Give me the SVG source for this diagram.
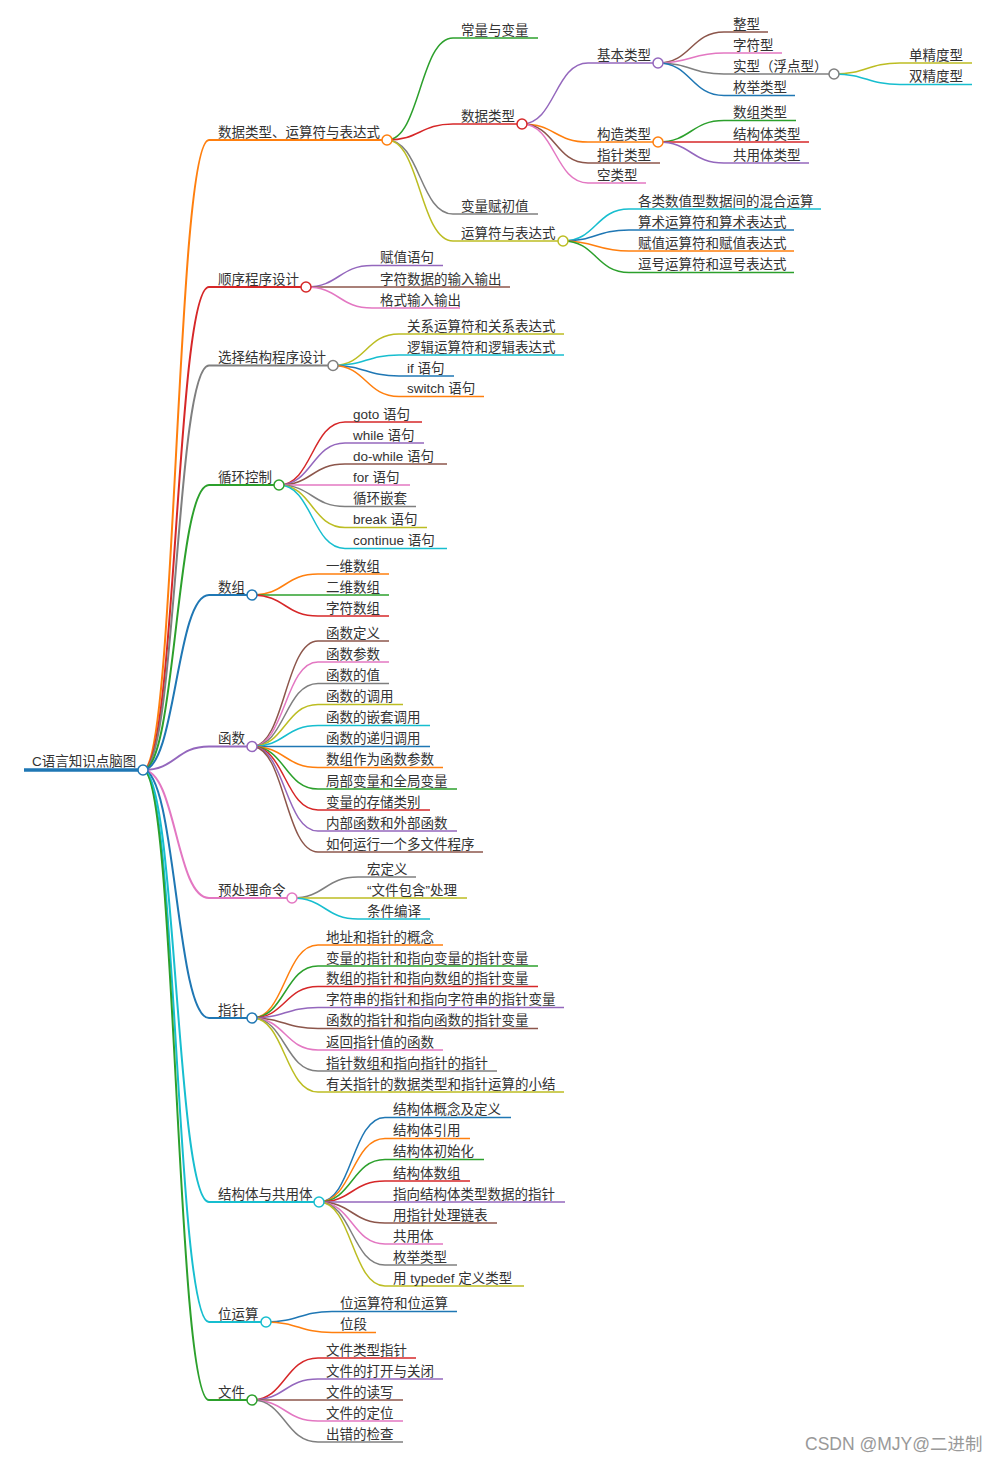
<svg xmlns="http://www.w3.org/2000/svg" width="997" height="1462" viewBox="0 0 997 1462">
<style>
path{fill:none;stroke-width:1.5}
circle{fill:#fff;stroke-width:1.5}
.l1{stroke-width:2}
.root{stroke-width:3.5}
text{font-family:"Liberation Sans","Noto Sans CJK SC",sans-serif;font-size:13.5px;fill:#333}
.wm{font-size:17.5px;fill:#999}
.b{stroke:#1f77b4}.o{stroke:#ff7f0e}.g{stroke:#2ca02c}.r{stroke:#d62728}.p{stroke:#9467bd}
.br{stroke:#8c564b}.pk{stroke:#e377c2}.gy{stroke:#7f7f7f}.ol{stroke:#bcbd22}.cy{stroke:#17becf}
</style>
<rect width="997" height="1462" fill="#fff"/>
<g id="connectors">
<path class="o l1" d="M143 770C176 770 176 140 209 140"/>
<path class="r l1" d="M143 770C176 770 176 287 209 287"/>
<path class="gy l1" d="M143 770C176 770 176 365.5 209 365.5"/>
<path class="g l1" d="M143 770C176 770 176 485 209 485"/>
<path class="b l1" d="M143 770C176 770 176 595 209 595"/>
<path class="p l1" d="M143 770C176 770 176 746.5 209 746.5"/>
<path class="pk l1" d="M143 770C176 770 176 898 209 898"/>
<path class="b l1" d="M143 770C176 770 176 1018 209 1018"/>
<path class="cy l1" d="M143 770C176 770 176 1202 209 1202"/>
<path class="cy l1" d="M143 770C176 770 176 1322 209 1322"/>
<path class="g l1" d="M143 770C176 770 176 1400 209 1400"/>
<path class="g" d="M387 140C420 140 420 38 453 38"/>
<path class="r" d="M387 140C420 140 420 124 453 124"/>
<path class="gy" d="M387 140C420 140 420 214 453 214"/>
<path class="ol" d="M387 140C420 140 420 241 453 241"/>
<path class="p" d="M522 124C555 124 555 63 588 63"/>
<path class="o" d="M522 124C555 124 555 142 588 142"/>
<path class="br" d="M522 124C555 124 555 163 588 163"/>
<path class="pk" d="M522 124C555 124 555 183 588 183"/>
<path class="br" d="M658 63C691 63 691 32 724 32"/>
<path class="pk" d="M658 63C691 63 691 53 724 53"/>
<path class="gy" d="M658 63C691 63 691 74 724 74"/>
<path class="b" d="M658 63C691 63 691 95.5 724 95.5"/>
<path class="ol" d="M834 74C867 74 867 63 900 63"/>
<path class="cy" d="M834 74C867 74 867 84.5 900 84.5"/>
<path class="g" d="M658 142C691 142 691 120.5 724 120.5"/>
<path class="r" d="M658 142C691 142 691 142 724 142"/>
<path class="p" d="M658 142C691 142 691 163 724 163"/>
<path class="cy" d="M563 241C596 241 596 209 629 209"/>
<path class="b" d="M563 241C596 241 596 230 629 230"/>
<path class="o" d="M563 241C596 241 596 251 629 251"/>
<path class="g" d="M563 241C596 241 596 272.5 629 272.5"/>
<path class="p" d="M306 287C339 287 339 265.5 372 265.5"/>
<path class="br" d="M306 287C339 287 339 287 372 287"/>
<path class="pk" d="M306 287C339 287 339 308 372 308"/>
<path class="ol" d="M333 365.5C366 365.5 366 334 399 334"/>
<path class="cy" d="M333 365.5C366 365.5 366 355 399 355"/>
<path class="b" d="M333 365.5C366 365.5 366 376 399 376"/>
<path class="o" d="M333 365.5C366 365.5 366 396.5 399 396.5"/>
<path class="r" d="M279 485C312 485 312 422 345 422"/>
<path class="p" d="M279 485C312 485 312 443 345 443"/>
<path class="br" d="M279 485C312 485 312 464 345 464"/>
<path class="pk" d="M279 485C312 485 312 485 345 485"/>
<path class="gy" d="M279 485C312 485 312 506.5 345 506.5"/>
<path class="ol" d="M279 485C312 485 312 527.5 345 527.5"/>
<path class="cy" d="M279 485C312 485 312 548.5 345 548.5"/>
<path class="o" d="M252 595C285 595 285 574 318 574"/>
<path class="g" d="M252 595C285 595 285 595 318 595"/>
<path class="r" d="M252 595C285 595 285 616 318 616"/>
<path class="br" d="M252 746.5C285 746.5 285 641 318 641"/>
<path class="pk" d="M252 746.5C285 746.5 285 662 318 662"/>
<path class="gy" d="M252 746.5C285 746.5 285 683.5 318 683.5"/>
<path class="ol" d="M252 746.5C285 746.5 285 704.5 318 704.5"/>
<path class="cy" d="M252 746.5C285 746.5 285 725.5 318 725.5"/>
<path class="b" d="M252 746.5C285 746.5 285 746.5 318 746.5"/>
<path class="o" d="M252 746.5C285 746.5 285 767.5 318 767.5"/>
<path class="g" d="M252 746.5C285 746.5 285 789 318 789"/>
<path class="r" d="M252 746.5C285 746.5 285 810 318 810"/>
<path class="p" d="M252 746.5C285 746.5 285 831 318 831"/>
<path class="br" d="M252 746.5C285 746.5 285 852 318 852"/>
<path class="gy" d="M292 898C325 898 325 877 358 877"/>
<path class="ol" d="M292 898C325 898 325 898 358 898"/>
<path class="cy" d="M292 898C325 898 325 919 358 919"/>
<path class="o" d="M252 1018C285 1018 285 945 318 945"/>
<path class="g" d="M252 1018C285 1018 285 966 318 966"/>
<path class="r" d="M252 1018C285 1018 285 986.5 318 986.5"/>
<path class="p" d="M252 1018C285 1018 285 1007.5 318 1007.5"/>
<path class="br" d="M252 1018C285 1018 285 1028.5 318 1028.5"/>
<path class="pk" d="M252 1018C285 1018 285 1050 318 1050"/>
<path class="gy" d="M252 1018C285 1018 285 1071 318 1071"/>
<path class="ol" d="M252 1018C285 1018 285 1092 318 1092"/>
<path class="b" d="M319 1202C352 1202 352 1117.5 385 1117.5"/>
<path class="o" d="M319 1202C352 1202 352 1138.5 385 1138.5"/>
<path class="g" d="M319 1202C352 1202 352 1159.5 385 1159.5"/>
<path class="r" d="M319 1202C352 1202 352 1181 385 1181"/>
<path class="p" d="M319 1202C352 1202 352 1202 385 1202"/>
<path class="br" d="M319 1202C352 1202 352 1223 385 1223"/>
<path class="pk" d="M319 1202C352 1202 352 1244 385 1244"/>
<path class="gy" d="M319 1202C352 1202 352 1265 385 1265"/>
<path class="ol" d="M319 1202C352 1202 352 1286 385 1286"/>
<path class="b" d="M266 1322C299 1322 299 1311.5 332 1311.5"/>
<path class="o" d="M266 1322C299 1322 299 1332.5 332 1332.5"/>
<path class="r" d="M252 1400C285 1400 285 1358 318 1358"/>
<path class="p" d="M252 1400C285 1400 285 1379 318 1379"/>
<path class="br" d="M252 1400C285 1400 285 1400 318 1400"/>
<path class="pk" d="M252 1400C285 1400 285 1421 318 1421"/>
<path class="gy" d="M252 1400C285 1400 285 1442 318 1442"/>
</g>

<g id="root"><path class="b root" d="M24 770H143"/><circle class="b" cx="143" cy="770" r="5"/><text x="32" y="766">C语言知识点脑图</text></g>

<g id="n-types"><path class="o l1" d="M209 140H387"/><circle class="o" cx="387" cy="140" r="5"/><text x="218" y="136.5">数据类型、运算符与表达式</text></g>
<g id="n-const"><path class="g" d="M453 38H538"/><text x="461" y="34.5">常量与变量</text></g>
<g id="n-dtype"><path class="r" d="M453 124H522"/><circle class="r" cx="522" cy="124" r="5"/><text x="461" y="120.5">数据类型</text></g>
<g id="n-basic"><path class="p" d="M588 63H658"/><circle class="p" cx="658" cy="63" r="5"/><text x="597" y="59.5">基本类型</text></g>
<g id="n-int"><path class="br" d="M724 32H768"/><text x="733" y="28.5">整型</text></g>
<g id="n-char"><path class="pk" d="M724 53H782"/><text x="733" y="49.5">字符型</text></g>
<g id="n-real"><path class="gy" d="M724 74H834"/><circle class="gy" cx="834" cy="74" r="5"/><text x="733" y="70.5">实型（浮点型）</text></g>
<g id="n-single"><path class="ol" d="M900 63H972"/><text x="909" y="59.5">单精度型</text></g>
<g id="n-double"><path class="cy" d="M900 84.5H972"/><text x="909" y="81">双精度型</text></g>
<g id="n-enum1"><path class="b" d="M724 95.5H795"/><text x="733" y="92">枚举类型</text></g>
<g id="n-construct"><path class="o" d="M588 142H658"/><circle class="o" cx="658" cy="142" r="5"/><text x="597" y="138.5">构造类型</text></g>
<g id="n-arrt"><path class="g" d="M724 120.5H796"/><text x="733" y="117">数组类型</text></g>
<g id="n-structt"><path class="r" d="M724 142H809"/><text x="733" y="138.5">结构体类型</text></g>
<g id="n-uniont"><path class="p" d="M724 163H809"/><text x="733" y="159.5">共用体类型</text></g>
<g id="n-ptrt"><path class="br" d="M588 163H660"/><text x="597" y="159.5">指针类型</text></g>
<g id="n-void"><path class="pk" d="M588 183H646"/><text x="597" y="179.5">空类型</text></g>
<g id="n-init"><path class="gy" d="M453 214H538"/><text x="461" y="210.5">变量赋初值</text></g>
<g id="n-ops"><path class="ol" d="M453 241H563"/><circle class="ol" cx="563" cy="241" r="5"/><text x="461" y="237.5">运算符与表达式</text></g>
<g id="n-mix"><path class="cy" d="M629 209H821"/><text x="638" y="205.5">各类数值型数据间的混合运算</text></g>
<g id="n-arith"><path class="b" d="M629 230H794"/><text x="638" y="226.5">算术运算符和算术表达式</text></g>
<g id="n-assign"><path class="o" d="M629 251H794"/><text x="638" y="247.5">赋值运算符和赋值表达式</text></g>
<g id="n-comma"><path class="g" d="M629 272.5H794"/><text x="638" y="269">逗号运算符和逗号表达式</text></g>

<g id="n-seq"><path class="r l1" d="M209 287H306"/><circle class="r" cx="306" cy="287" r="5"/><text x="218" y="283.5">顺序程序设计</text></g>
<g id="n-seq1"><path class="p" d="M372 265.5H443"/><text x="380" y="262">赋值语句</text></g>
<g id="n-seq2"><path class="br" d="M372 287H510"/><text x="380" y="283.5">字符数据的输入输出</text></g>
<g id="n-seq3"><path class="pk" d="M372 308H460"/><text x="380" y="304.5">格式输入输出</text></g>

<g id="n-sel"><path class="gy l1" d="M209 365.5H333"/><circle class="gy" cx="333" cy="365.5" r="5"/><text x="218" y="362">选择结构程序设计</text></g>
<g id="n-sel1"><path class="ol" d="M399 334H564"/><text x="407" y="330.5">关系运算符和关系表达式</text></g>
<g id="n-sel2"><path class="cy" d="M399 355H564"/><text x="407" y="351.5">逻辑运算符和逻辑表达式</text></g>
<g id="n-sel3"><path class="b" d="M399 376H454"/><text x="407" y="372.5">if 语句</text></g>
<g id="n-sel4"><path class="o" d="M399 396.5H484"/><text x="407" y="393">switch 语句</text></g>

<g id="n-loop"><path class="g l1" d="M209 485H279"/><circle class="g" cx="279" cy="485" r="5"/><text x="218" y="481.5">循环控制</text></g>
<g id="n-loop1"><path class="r" d="M345 422H422"/><text x="353" y="418.5">goto 语句</text></g>
<g id="n-loop2"><path class="p" d="M345 443H424"/><text x="353" y="439.5">while 语句</text></g>
<g id="n-loop3"><path class="br" d="M345 464H447"/><text x="353" y="460.5">do-while 语句</text></g>
<g id="n-loop4"><path class="pk" d="M345 485H410"/><text x="353" y="481.5">for 语句</text></g>
<g id="n-loop5"><path class="gy" d="M345 506.5H416"/><text x="353" y="503">循环嵌套</text></g>
<g id="n-loop6"><path class="ol" d="M345 527.5H427"/><text x="353" y="524">break 语句</text></g>
<g id="n-loop7"><path class="cy" d="M345 548.5H447"/><text x="353" y="545">continue 语句</text></g>

<g id="n-arr"><path class="b l1" d="M209 595H252"/><circle class="b" cx="252" cy="595" r="5"/><text x="218" y="591.5">数组</text></g>
<g id="n-arr1"><path class="o" d="M318 574H389"/><text x="326" y="570.5">一维数组</text></g>
<g id="n-arr2"><path class="g" d="M318 595H389"/><text x="326" y="591.5">二维数组</text></g>
<g id="n-arr3"><path class="r" d="M318 616H389"/><text x="326" y="612.5">字符数组</text></g>

<g id="n-fn"><path class="p l1" d="M209 746.5H252"/><circle class="p" cx="252" cy="746.5" r="5"/><text x="218" y="743">函数</text></g>
<g id="n-fn1"><path class="br" d="M318 641H389"/><text x="326" y="637.5">函数定义</text></g>
<g id="n-fn2"><path class="pk" d="M318 662H389"/><text x="326" y="658.5">函数参数</text></g>
<g id="n-fn3"><path class="gy" d="M318 683.5H389"/><text x="326" y="680">函数的值</text></g>
<g id="n-fn4"><path class="ol" d="M318 704.5H403"/><text x="326" y="701">函数的调用</text></g>
<g id="n-fn5"><path class="cy" d="M318 725.5H430"/><text x="326" y="722">函数的嵌套调用</text></g>
<g id="n-fn6"><path class="b" d="M318 746.5H430"/><text x="326" y="743">函数的递归调用</text></g>
<g id="n-fn7"><path class="o" d="M318 767.5H443"/><text x="326" y="764">数组作为函数参数</text></g>
<g id="n-fn8"><path class="g" d="M318 789H457"/><text x="326" y="785.5">局部变量和全局变量</text></g>
<g id="n-fn9"><path class="r" d="M318 810H430"/><text x="326" y="806.5">变量的存储类别</text></g>
<g id="n-fn10"><path class="p" d="M318 831H457"/><text x="326" y="827.5">内部函数和外部函数</text></g>
<g id="n-fn11"><path class="br" d="M318 852H483"/><text x="326" y="848.5">如何运行一个多文件程序</text></g>

<g id="n-pre"><path class="pk l1" d="M209 898H292"/><circle class="pk" cx="292" cy="898" r="5"/><text x="218" y="894.5">预处理命令</text></g>
<g id="n-pre1"><path class="gy" d="M358 877H416"/><text x="367" y="873.5">宏定义</text></g>
<g id="n-pre2"><path class="ol" d="M358 898H467"/><text x="367" y="894.5">“文件包含”处理</text></g>
<g id="n-pre3"><path class="cy" d="M358 919H430"/><text x="367" y="915.5">条件编译</text></g>

<g id="n-ptr"><path class="b l1" d="M209 1018H252"/><circle class="b" cx="252" cy="1018" r="5"/><text x="218" y="1014.5">指针</text></g>
<g id="n-ptr1"><path class="o" d="M318 945H443"/><text x="326" y="941.5">地址和指针的概念</text></g>
<g id="n-ptr2"><path class="g" d="M318 966H538"/><text x="326" y="962.5">变量的指针和指向变量的指针变量</text></g>
<g id="n-ptr3"><path class="r" d="M318 986.5H538"/><text x="326" y="983">数组的指针和指向数组的指针变量</text></g>
<g id="n-ptr4"><path class="p" d="M318 1007.5H564"/><text x="326" y="1004">字符串的指针和指向字符串的指针变量</text></g>
<g id="n-ptr5"><path class="br" d="M318 1028.5H538"/><text x="326" y="1025">函数的指针和指向函数的指针变量</text></g>
<g id="n-ptr6"><path class="pk" d="M318 1050H443"/><text x="326" y="1046.5">返回指针值的函数</text></g>
<g id="n-ptr7"><path class="gy" d="M318 1071H497"/><text x="326" y="1067.5">指针数组和指向指针的指针</text></g>
<g id="n-ptr8"><path class="ol" d="M318 1092H564"/><text x="326" y="1088.5">有关指针的数据类型和指针运算的小结</text></g>

<g id="n-st"><path class="cy l1" d="M209 1202H319"/><circle class="cy" cx="319" cy="1202" r="5"/><text x="218" y="1198.5">结构体与共用体</text></g>
<g id="n-st1"><path class="b" d="M385 1117.5H511"/><text x="393" y="1114">结构体概念及定义</text></g>
<g id="n-st2"><path class="o" d="M385 1138.5H470"/><text x="393" y="1135">结构体引用</text></g>
<g id="n-st3"><path class="g" d="M385 1159.5H484"/><text x="393" y="1156">结构体初始化</text></g>
<g id="n-st4"><path class="r" d="M385 1181H470"/><text x="393" y="1177.5">结构体数组</text></g>
<g id="n-st5"><path class="p" d="M385 1202H565"/><text x="393" y="1198.5">指向结构体类型数据的指针</text></g>
<g id="n-st6"><path class="br" d="M385 1223H497"/><text x="393" y="1219.5">用指针处理链表</text></g>
<g id="n-st7"><path class="pk" d="M385 1244H443"/><text x="393" y="1240.5">共用体</text></g>
<g id="n-st8"><path class="gy" d="M385 1265H457"/><text x="393" y="1261.5">枚举类型</text></g>
<g id="n-st9"><path class="ol" d="M385 1286H524"/><text x="393" y="1282.5">用 typedef 定义类型</text></g>

<g id="n-bit"><path class="cy l1" d="M209 1322H266"/><circle class="cy" cx="266" cy="1322" r="5"/><text x="218" y="1318.5">位运算</text></g>
<g id="n-bit1"><path class="b" d="M332 1311.5H457"/><text x="340" y="1308">位运算符和位运算</text></g>
<g id="n-bit2"><path class="o" d="M332 1332.5H376"/><text x="340" y="1329">位段</text></g>

<g id="n-file"><path class="g l1" d="M209 1400H252"/><circle class="g" cx="252" cy="1400" r="5"/><text x="218" y="1396.5">文件</text></g>
<g id="n-file1"><path class="r" d="M318 1358H416"/><text x="326" y="1354.5">文件类型指针</text></g>
<g id="n-file2"><path class="p" d="M318 1379H443"/><text x="326" y="1375.5">文件的打开与关闭</text></g>
<g id="n-file3"><path class="br" d="M318 1400H403"/><text x="326" y="1396.5">文件的读写</text></g>
<g id="n-file4"><path class="pk" d="M318 1421H403"/><text x="326" y="1417.5">文件的定位</text></g>
<g id="n-file5"><path class="gy" d="M318 1442H403"/><text x="326" y="1438.5">出错的检查</text></g>

<text class="wm" x="805" y="1450">CSDN @MJY@二进制</text>
</svg>
